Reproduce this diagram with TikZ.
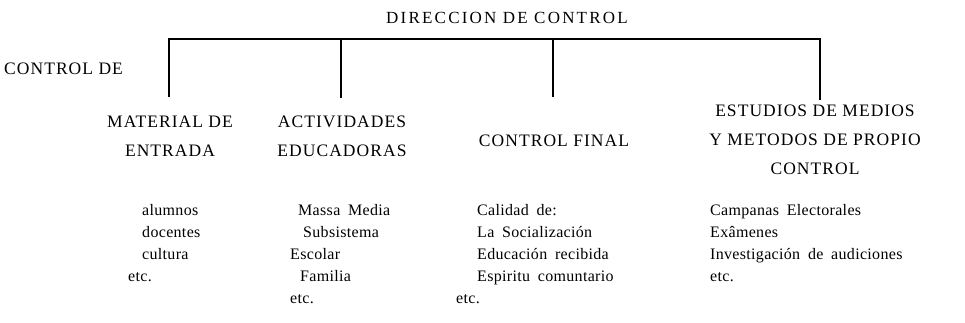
\documentclass[tikz,border=0pt]{standalone}
\usepackage{fontspec}
\setmainfont{Liberation Serif}
\newfontfamily\titlefont[LetterSpace=13]{Liberation Serif}
\newfontfamily\headfont[LetterSpace=6]{Liberation Serif}
\newfontfamily\itemfont[LetterSpace=2,WordSpace=1.8]{Liberation Serif}
\usetikzlibrary{positioning}

\begin{document}
\begin{tikzpicture}[x=1pt,y=-1pt,
  head/.style = {font=\headfont\fontsize{17.5}{29}\selectfont, align=center, inner sep=0pt, anchor=north},
  items/.style = {font=\itemfont\fontsize{16}{22}\selectfont, align=left, inner sep=0pt, anchor=north west},
  bar/.style = {line width=1.4pt}
  ]
  \useasboundingbox (0,0) rectangle (965,322);

  \node[head, font=\titlefont\fontsize{17}{30}\selectfont] (dir) at (507,12) {DIRECCION DE CONTROL};
  \node[head, anchor=north west] (ctl) at (4,63) {CONTROL DE};

  \node[head] (mat) at (170,116) {MATERIAL DE\\ENTRADA};
  \node[head] (act) at (342,116) {ACTIVIDADES\\EDUCADORAS};
  \node[head] (fin) at (554,135) {CONTROL FINAL};
  \node[head] (est) at (815,105) {ESTUDIOS DE MEDIOS\\Y METODOS DE PROPIO\\CONTROL};

  \node[items] (lst1) at (128,204) {\hspace*{14pt}alumnos\\\hspace*{14pt}docentes\\\hspace*{14pt}cultura\\etc.};
  \node[items] (lst2) at (290,204) {\hspace*{8pt}Massa Media\\\hspace*{13pt}Subsistema\\Escolar\\\hspace*{10pt}Familia\\etc.};
  \node[items] (lst3) at (456,204) {\hspace*{21pt}Calidad de:\\\hspace*{21pt}La Socialización\\\hspace*{21pt}Educación recibida\\\hspace*{21pt}Espiritu comuntario\\etc.};
  \node[items] (lst4) at (710,204) {Campanas Electorales\\Exâmenes\\Investigación de audiciones\\etc.};

  \coordinate (b1) at (169,39);
  \coordinate (b2) at (341,39);
  \coordinate (b3) at (553,39);
  \coordinate (b4) at (820,39);
  \coordinate (e1) at (169,97);
  \coordinate (e2) at (341,98);
  \coordinate (e3) at (553,97);
  \coordinate (e4) at (820,100);

  \draw[bar] (e1) -- (b1) -- (b4) -- (e4);
  \draw[bar] (b2) -- (e2);
  \draw[bar] (b3) -- (e3);

\end{tikzpicture}
\end{document}
